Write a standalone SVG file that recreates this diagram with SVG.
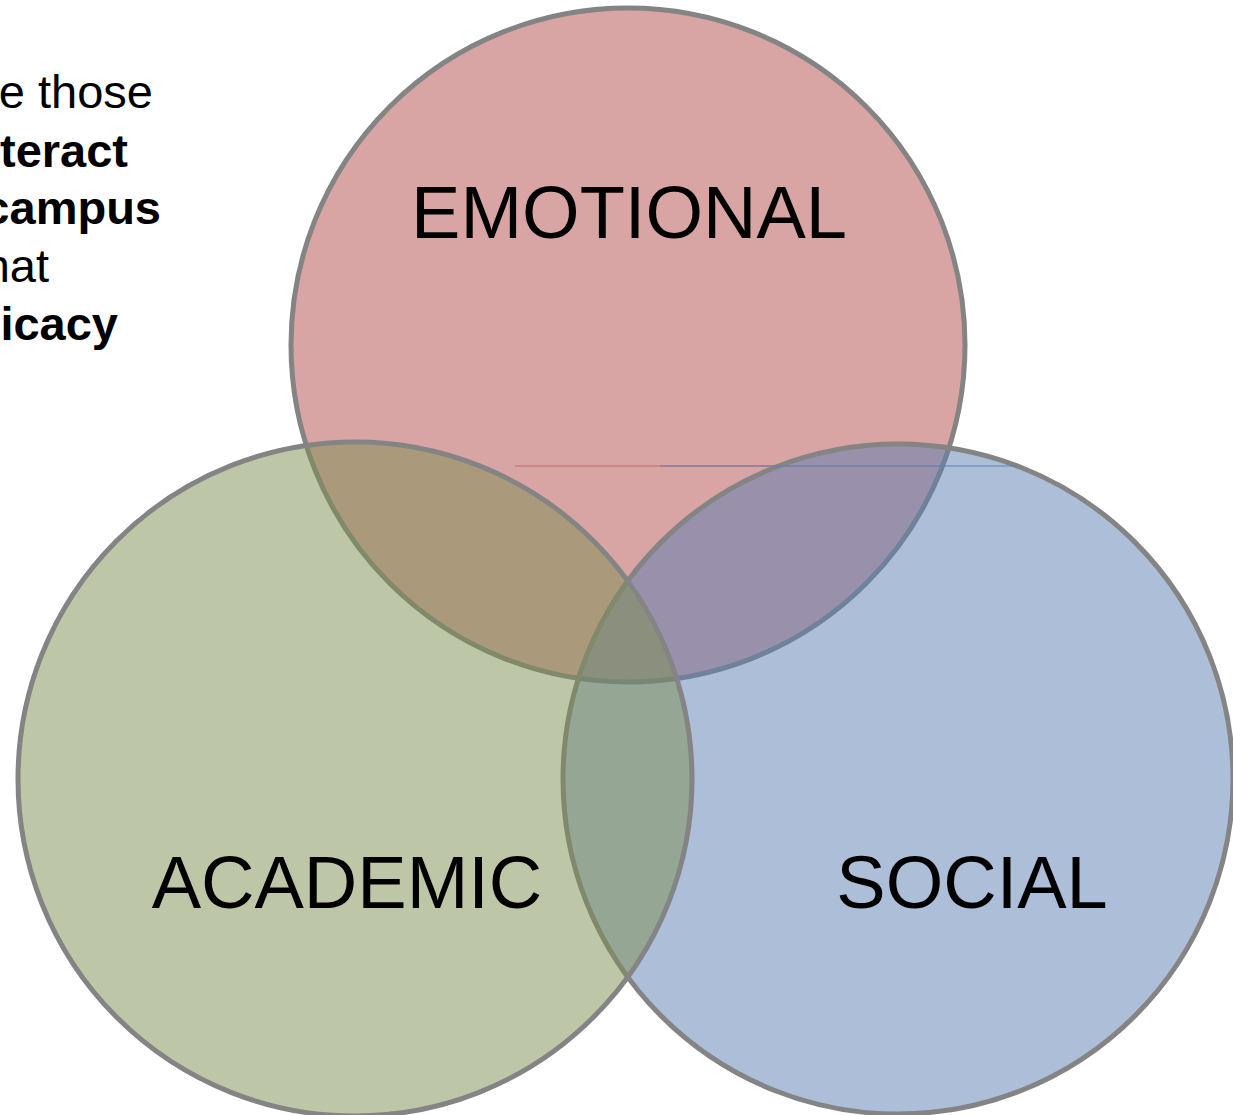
<svg xmlns="http://www.w3.org/2000/svg" width="1233" height="1115" viewBox="0 0 1233 1115">
<style>
.c{stroke:#848484;stroke-width:5;fill-opacity:0.5}
.lbl{font-family:"Liberation Sans",Arial,sans-serif;font-size:74px;fill:#000;text-anchor:middle}
.side{font-family:"Liberation Sans",Arial,sans-serif;font-size:47px;fill:#000;text-anchor:end}
.b{font-weight:bold}
</style>
<rect width="1233" height="1115" fill="#fff"/>
<g id="intro-text">
<text class="side" x="153" y="108">e those</text>
<text class="side b" x="128" y="167">teract</text>
<text class="side b" x="161" y="224">campus</text>
<text class="side" x="49" y="282">hat</text>
<text class="side b" x="118" y="340">icacy</text>
</g>
<g id="connectors"></g>
<g id="emotional">
<circle class="c" cx="628" cy="345" r="337" fill="#b14949"/>
<line x1="515" y1="466" x2="945" y2="466" stroke="#c06a6a" stroke-width="1"/>
</g>
<g id="social">
<circle class="c" cx="898" cy="779" r="335" fill="#597db1"/>
<line x1="660" y1="466" x2="1017" y2="466" stroke="#5f82b2" stroke-width="1"/>
</g>
<g id="academic">
<circle class="c" cx="355" cy="779" r="337" fill="#7d8d51"/>
</g>
<g id="labels">
<text class="lbl" x="629" y="238">EMOTIONAL</text>
<text class="lbl" x="347" y="908">ACADEMIC</text>
<text class="lbl" x="972" y="908">SOCIAL</text>
</g>
</svg>
